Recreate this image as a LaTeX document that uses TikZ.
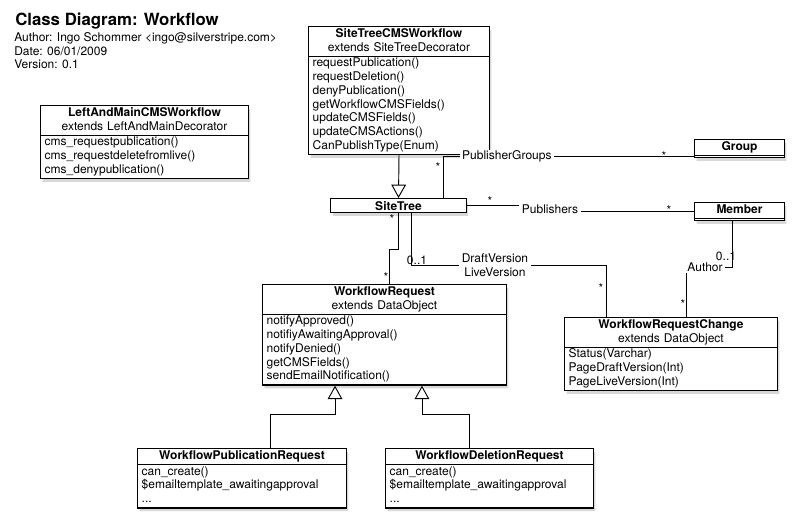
\documentclass[tikz,border=0pt]{standalone}
\usepackage{fontspec}
\setmainfont{TeX Gyre Heros}
\usetikzlibrary{shapes.multipart,shadows,arrows.meta}
\newcommand{\umlfont}{\fontsize{9}{10.3}\selectfont}
\tikzset{
  boxshadow/.style={drop shadow={shadow xshift=1.5pt, shadow yshift=-2.5pt, opacity=0.3}},
  umlclass/.style={rectangle split, rectangle split parts=2, draw, line width=1pt,
    fill=white, anchor=north west, inner xsep=3pt, inner ysep=0.3pt,
    text width=#1, align=left, font=\umlfont,
    rectangle split empty part height=7pt, boxshadow},
  umlbox/.style={draw, line width=1pt, fill=white, anchor=north west, inner sep=0pt,
    minimum width=#1, minimum height=10.5pt, font=\umlfont\bfseries, boxshadow},
  assoc/.style={line width=0.7pt},
  gen/.style={line width=0.7pt, -{Triangle[open, length=10pt, width=11pt]}},
  role/.style={fill=white, inner xsep=2pt, inner ysep=1pt, font=\umlfont, align=center},
  mult/.style={inner sep=0pt, font=\umlfont}
}

\begin{document}
\begin{tikzpicture}[x=0.75pt, y=-0.75pt]
    \useasboundingbox[fill=white] (0,0) rectangle (804,527);

    % header
    \node[anchor=base west, inner sep=0pt, font=\bfseries\fontsize{12.6}{14}\selectfont] (title) at (15,26) {Class Diagram: Workflow};
    \node[anchor=north west, inner sep=0pt, align=left, font=\umlfont] (info) at (14,31.5)
        {\strut Author: Ingo Schommer <ingo@silverstripe.com>\\Date: 06/01/2009\\Version: 0.1};

    % classes
    \node[umlclass=129.5pt] (stcw) at (308,26)
        {\centering\strut\textbf{SiteTreeCMSWorkflow}\par extends SiteTreeDecorator\strut\par
         \nodepart{two}\strut requestPublication()\\requestDeletion()\\denyPublication()\\getWorkflowCMSFields()\\updateCMSFields()\\updateCMSActions()\\CanPublishType(Enum)\strut};
    \node[umlclass=149.75pt] (lamcw) at (40,105)
        {\centering\strut\textbf{LeftAndMainCMSWorkflow}\par extends LeftAndMainDecorator\strut\par
         \nodepart{two}\strut cms\_requestpublication()\\cms\_requestdeletefromlive()\\cms\_denypublication()\strut};
    \node[umlbox=101.75pt] (sitetree) at (330,198) {SiteTree};
    \node[umlclass=61.25pt] (group) at (694,139) {\centering\strut\textbf{Group}\strut\par \nodepart{two}};
    \node[umlclass=61.25pt] (member) at (694,202) {\centering\strut\textbf{Member}\strut\par \nodepart{two}};
    \node[umlclass=176.75pt] (wr) at (262,284)
        {\centering\strut\textbf{WorkflowRequest}\par extends DataObject\strut\par
         \nodepart{two}\strut notifyApproved()\\notifiyAwaitingApproval()\\notifyDenied()\\getCMSFields()\\sendEmailNotification()\strut};
    \node[umlclass=153.5pt] (wrc) at (564,317)
        {\centering\strut\textbf{WorkflowRequestChange}\par extends DataObject\strut\par
         \nodepart{two}\strut Status(Varchar)\\PageDraftVersion(Int)\\PageLiveVersion(Int)\strut};
    \node[umlclass=150.5pt] (wpr) at (137,448)
        {\centering\strut\textbf{WorkflowPublicationRequest}\strut\par
         \nodepart{two}\strut can\_create()\\\$emailtemplate\_awaitingapproval\\...\strut};
    \node[umlclass=149.75pt] (wdr) at (385,448)
        {\centering\strut\textbf{WorkflowDeletionRequest}\strut\par
         \nodepart{two}\strut can\_create()\\\$emailtemplate\_awaitingapproval\\...\strut};

    % inheritance
    \draw[gen] (stcw.south) -- (sitetree.north);
    \draw[gen] ([xshift=21pt]wpr.north) -- ++(0,-34) -| ([xshift=-37.1pt]wr.south);
    \draw[gen] ([xshift=-15.4pt]wdr.north) -- ++(0,-34) -| ([xshift=28.1pt]wr.south);

    % associations
    \draw[assoc] ([xshift=34pt]sitetree.north) |- ([yshift=-6pt]group.west)
        node[role, pos=0.626] (pglab) {PublisherGroups};
    \coordinate (pubbend) at (550,209);
    \draw[assoc] (sitetree.east) -| (pubbend) |- (member.west);
    \node[role] (publab) at (pubbend) {Publishers};
    \draw[assoc] (sitetree.south) -- ++(0,36) -| ([xshift=4pt]wr.north);
    \draw[assoc] ([xshift=10pt]sitetree.south) -- ++(0,52) -| ([xshift=-48.75pt]wrc.north)
        node[role, pos=0.214] (verlab) {DraftVersion\\LiveVersion};
    \draw[assoc] ([xshift=-5.6pt]member.south) -- ++(0,46) -| ([xshift=11.25pt]wrc.north)
        node[role, pos=0.293] (authlab) {Author};

    % multiplicities
    \node[mult] (pgst) at (438,167.5) {*};
    \node[mult] (pggr) at (664,156.5) {*};
    \node[mult] (pubst) at (490,201.5) {*};
    \node[mult] (pubme) at (669,210.5) {*};
    \node[mult] (reqst) at (392,219.5) {*};
    \node[mult] (reqwr) at (386,277.5) {*};
    \node[mult] (verst) at (417,260) {0..1};
    \node[mult] (verwrc) at (601,288.5) {*};
    \node[mult] (authme) at (726,256) {0..1};
    \node[mult] (authwrc) at (683,304.5) {*};
\end{tikzpicture}
\end{document}
